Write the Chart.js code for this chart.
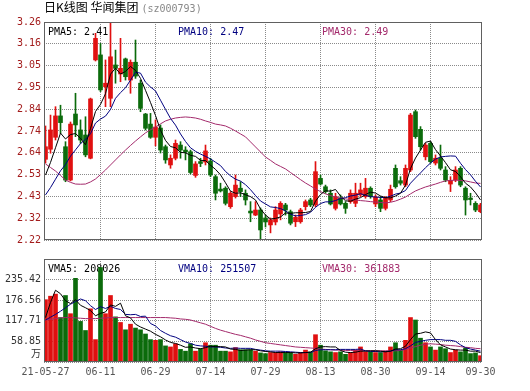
<!DOCTYPE html>
<html lang="zh">
<head>
  <meta charset="UTF-8">
  <title>日K线图 华闻集团</title>
  <script src="https://cdn.jsdelivr.net/npm/chart.js@4"></script>
  <style>
    body { margin: 0; background: #fff; }
    #wrap { position: relative; width: 530px; height: 391px; }
    #title { position: absolute; left: 44px; top: 0; font: 12px/14px "Noto Sans CJK SC", sans-serif; color: #000; white-space: nowrap; z-index: 2; }
    #title .code { font: 10px/14px "DejaVu Sans Mono", monospace; color: #888; margin-left: 3px; }
    canvas { position: absolute; left: 0; }
    #price { top: 0; }
    #volume { top: 250px; }
  </style>
</head>
<body>
  <div id="wrap">
    <div id="title">日K线图 华闻集团<span class="code">(sz000793)</span></div>
    <canvas id="price" width="530" height="250"></canvas>
    <canvas id="volume" width="530" height="141"></canvas>
  </div>

  <script>
    // 横轴刻度（按K线序号）
    const xTickIdx = [0, 11, 22, 33, 44, 55, 66, 77, 87];
    const xTickLabels = ['21-05-27', '06-11', '06-29', '07-14', '07-29', '08-13', '08-30', '09-14', '09-30'];
    const priceTicks = [2.22, 2.324, 2.428, 2.532, 2.636, 2.74, 2.844, 2.948, 3.052, 3.156, 3.26];
    const volTicks = [0, 58.85, 117.71, 176.56, 235.42, 294.27];

    const priceLegend = ['PMA5: 2.41', 'PMA10: 2.47', 'PMA30: 2.49'];
    const volLegend = ['VMA5: 208026', 'VMA10: 251507', 'VMA30: 361883'];

    // 日K数据
    const opens = [
      2.605, 2.653, 2.710, 2.812, 2.665, 2.506, 2.821, 2.745, 2.721, 2.610,
      3.079, 3.103, 2.951, 2.896, 3.055, 3.012, 3.084, 2.983, 3.068, 2.968,
      2.821, 2.773, 2.710, 2.754, 2.665, 2.578, 2.610, 2.673, 2.649, 2.641,
      2.528, 2.594, 2.592, 2.597, 2.522, 2.463, 2.467, 2.379, 2.427, 2.467,
      2.443, 2.358, 2.339, 2.363, 2.325, 2.292, 2.306, 2.344, 2.387, 2.355,
      2.307, 2.307, 2.379, 2.411, 2.387, 2.514, 2.474, 2.443, 2.371, 2.419,
      2.395, 2.403, 2.395, 2.435, 2.427, 2.467, 2.392, 2.411, 2.371, 2.411,
      2.562, 2.503, 2.482, 2.554, 2.832, 2.748, 2.617, 2.681, 2.587, 2.610,
      2.554, 2.487, 2.506, 2.562, 2.467, 2.420, 2.395, 2.355
    ];
    const highs = [
      2.764, 2.816, 2.856, 2.863, 2.689, 2.783, 2.920, 2.793, 2.808, 2.897,
      3.206, 3.158, 3.079, 3.260, 3.126, 3.182, 3.088, 3.079, 3.174, 2.983,
      2.824, 2.824, 2.793, 2.769, 2.673, 2.626, 2.697, 2.689, 2.665, 2.649,
      2.594, 2.610, 2.673, 2.610, 2.530, 2.491, 2.474, 2.451, 2.530, 2.498,
      2.459, 2.403, 2.403, 2.373, 2.339, 2.325, 2.379, 2.403, 2.395, 2.363,
      2.339, 2.371, 2.411, 2.419, 2.594, 2.530, 2.482, 2.459, 2.443, 2.435,
      2.403, 2.459, 2.491, 2.491, 2.514, 2.474, 2.435, 2.427, 2.427, 2.482,
      2.578, 2.522, 2.578, 2.824, 2.840, 2.761, 2.681, 2.689, 2.626, 2.673,
      2.570, 2.522, 2.570, 2.570, 2.474, 2.443, 2.403, 2.395
    ];
    const lows = [
      2.587, 2.634, 2.697, 2.729, 2.498, 2.502, 2.713, 2.681, 2.617, 2.607,
      3.074, 2.928, 2.856, 2.856, 2.968, 2.975, 2.983, 2.920, 2.991, 2.832,
      2.745, 2.705, 2.669, 2.635, 2.586, 2.562, 2.602, 2.610, 2.602, 2.535,
      2.519, 2.570, 2.578, 2.522, 2.411, 2.449, 2.387, 2.371, 2.420, 2.427,
      2.387, 2.307, 2.336, 2.220, 2.282, 2.254, 2.292, 2.316, 2.339, 2.292,
      2.284, 2.300, 2.363, 2.379, 2.379, 2.482, 2.443, 2.387, 2.363, 2.387,
      2.347, 2.395, 2.379, 2.427, 2.419, 2.419, 2.379, 2.355, 2.363, 2.403,
      2.467, 2.482, 2.474, 2.546, 2.705, 2.649, 2.602, 2.586, 2.578, 2.554,
      2.498, 2.451, 2.498, 2.474, 2.339, 2.387, 2.355, 2.350
    ];
    const closes = [
      2.665, 2.745, 2.812, 2.780, 2.506, 2.773, 2.769, 2.697, 2.626, 2.893,
      3.182, 2.936, 2.968, 3.094, 3.039, 3.039, 2.999, 3.068, 3.002, 2.848,
      2.753, 2.710, 2.759, 2.649, 2.602, 2.610, 2.681, 2.649, 2.640, 2.542,
      2.583, 2.585, 2.645, 2.530, 2.443, 2.454, 2.395, 2.443, 2.482, 2.451,
      2.411, 2.349, 2.363, 2.268, 2.306, 2.316, 2.363, 2.395, 2.363, 2.300,
      2.328, 2.363, 2.403, 2.387, 2.546, 2.487, 2.451, 2.392, 2.427, 2.392,
      2.371, 2.443, 2.443, 2.459, 2.467, 2.427, 2.425, 2.371, 2.419, 2.462,
      2.474, 2.491, 2.562, 2.816, 2.713, 2.665, 2.673, 2.594, 2.610, 2.562,
      2.506, 2.504, 2.554, 2.482, 2.411, 2.413, 2.363, 2.387
    ];
    const ma5 = [
      2.53, 2.59, 2.66, 2.73, 2.702, 2.723, 2.728, 2.705, 2.674, 2.752,
      2.833, 2.867, 2.918, 3.011, 3.040, 3.012, 3.024, 3.048, 3.029, 2.991,
      2.934, 2.876, 2.814, 2.744, 2.695, 2.666, 2.660, 2.638, 2.636, 2.624,
      2.619, 2.600, 2.599, 2.577, 2.557, 2.531, 2.493, 2.453, 2.443, 2.445,
      2.436, 2.427, 2.411, 2.368, 2.339, 2.320, 2.323, 2.330, 2.349, 2.347,
      2.350, 2.350, 2.351, 2.356, 2.405, 2.437, 2.455, 2.453, 2.461, 2.430,
      2.407, 2.405, 2.415, 2.422, 2.437, 2.448, 2.444, 2.430, 2.422, 2.421,
      2.430, 2.443, 2.482, 2.561, 2.611, 2.649, 2.686, 2.692, 2.651, 2.621,
      2.589, 2.555, 2.547, 2.522, 2.491, 2.473, 2.445, 2.411
    ];
    const ma10 = [
      2.435, 2.47, 2.51, 2.55, 2.58, 2.62, 2.65, 2.68, 2.70, 2.727,
      2.778, 2.797, 2.811, 2.843, 2.896, 2.923, 2.946, 2.983, 3.020, 3.016,
      2.973, 2.950, 2.931, 2.887, 2.843, 2.800, 2.768, 2.726, 2.690, 2.660,
      2.643, 2.630, 2.619, 2.607, 2.591, 2.575, 2.547, 2.526, 2.510, 2.501,
      2.484, 2.460, 2.432, 2.406, 2.392, 2.378, 2.375, 2.370, 2.359, 2.343,
      2.335, 2.337, 2.341, 2.352, 2.376, 2.394, 2.402, 2.402, 2.408, 2.418,
      2.422, 2.430, 2.434, 2.441, 2.433, 2.427, 2.425, 2.423, 2.422, 2.429,
      2.439, 2.444, 2.456, 2.491, 2.516, 2.540, 2.565, 2.587, 2.606, 2.616,
      2.619, 2.621, 2.620, 2.586, 2.556, 2.531, 2.500, 2.473
    ];
    const ma30 = [
      2.583, 2.566, 2.549, 2.528, 2.506, 2.495, 2.487, 2.486, 2.487, 2.497,
      2.511, 2.532, 2.554, 2.578, 2.602, 2.626, 2.649, 2.671, 2.692, 2.712,
      2.731, 2.746, 2.759, 2.774, 2.788, 2.796, 2.802, 2.805, 2.807, 2.805,
      2.802, 2.796, 2.788, 2.781, 2.773, 2.769, 2.764, 2.753, 2.740, 2.726,
      2.712, 2.688, 2.664, 2.640, 2.616, 2.600, 2.583, 2.571, 2.559, 2.542,
      2.525, 2.508, 2.492, 2.478, 2.463, 2.451, 2.440, 2.432, 2.425, 2.420,
      2.416, 2.413, 2.411, 2.408, 2.406, 2.403, 2.401, 2.399, 2.397, 2.400,
      2.406, 2.415, 2.425, 2.440, 2.454, 2.464, 2.473, 2.480, 2.487, 2.495,
      2.502, 2.504, 2.506, 2.504, 2.502, 2.497, 2.492, 2.490
    ];

    // 成交量（万）
    const volumes = [
      178, 188, 194, 127, 190, 138, 239, 116, 90, 152,
      64, 270, 138, 190, 129, 113, 92, 108, 97, 92,
      80, 64, 62, 64, 46, 43, 52, 36, 31, 52,
      31, 38, 55, 48, 48, 31, 31, 29, 41, 35,
      35, 35, 31, 26, 24, 27, 27, 29, 27, 27,
      22, 27, 34, 29, 78, 48, 32, 29, 27, 29,
      22, 27, 34, 43, 29, 29, 27, 27, 31, 43,
      55, 34, 62, 127, 120, 68, 55, 43, 34, 43,
      38, 27, 34, 29, 40, 24, 26, 18
    ];
    const vma5 = [
      127, 170, 205, 195, 175, 167, 178, 162, 155, 147,
      132, 139, 143, 163, 159, 168, 132, 126, 108, 100,
      94, 88, 79, 72, 63, 56, 53, 48, 42, 43,
      40, 38, 41, 45, 44, 44, 43, 37, 36, 33,
      34, 35, 35, 32, 30, 29, 27, 27, 27, 27,
      26, 26, 27, 28, 38, 43, 44, 43, 43, 33,
      28, 27, 28, 31, 31, 32, 32, 31, 29, 31,
      37, 38, 45, 64, 80, 82, 86, 83, 64, 49,
      43, 37, 35, 34, 34, 31, 31, 27
    ];
    const vma10 = [
      120, 128, 136, 145, 155, 165, 173, 180, 175, 161,
      150, 158, 153, 159, 153, 150, 136, 135, 136, 130,
      131, 110, 103, 90, 82, 75, 71, 64, 57, 53,
      48, 46, 45, 43, 43, 42, 40, 39, 40, 39,
      39, 39, 36, 34, 32, 31, 31, 31, 30, 29,
      28, 27, 27, 27, 33, 35, 35, 35, 35, 36,
      36, 36, 36, 37, 32, 30, 30, 29, 30, 31,
      35, 35, 38, 46, 56, 59, 62, 64, 64, 64,
      62, 62, 59, 49, 41, 37, 34, 31
    ];
    const vma30 = [
      120, 122, 124, 126, 127, 127, 126, 125, 124, 124,
      124, 125, 126, 127, 127, 127, 127, 127, 127, 127,
      127, 127, 127, 127, 127, 126, 125, 123, 122, 120,
      116, 112, 108, 102, 96, 91, 87, 83, 79, 76,
      72, 68, 63, 59, 55, 53, 51, 49, 47, 45,
      43, 42, 41, 40, 39, 37, 36, 35, 34, 34,
      33, 33, 32, 32, 32, 32, 32, 32, 32, 32,
      32, 33, 36, 40, 44, 48, 51, 52, 51, 50,
      48, 47, 46, 44, 42, 41, 39, 38
    ];

    const RED = '#e01010';
    const GREEN = '#0b6b0b';
    const MA_COLORS = ['#000000', '#000080', '#a3296b'];
    const GRID = '#8a8a8a';
    const DASH = [1, 1];
    const MONO = { family: '"DejaVu Sans Mono", monospace', size: 10 };
    const LEGEND_X = [4, 134, 278];

    Chart.defaults.font.family = MONO.family;

    const idx = closes.map((_, i) => i);
    const candleColors = idx.map(i => closes[i] >= opens[i] ? RED : GREEN);
    const pts = arr => arr.map((v, i) => ({ x: i, y: v }));

    function maLine(arr, k) {
      return {
        type: 'line', data: pts(arr), borderColor: MA_COLORS[k], borderWidth: 1,
        pointRadius: 0, tension: 0, fill: false, order: 0
      };
    }

    function xScale(showLabels) {
      return {
        type: 'linear', min: -0.3, max: 87.3, offset: false,
        afterBuildTicks: s => { s.ticks = xTickIdx.map(v => ({ value: v })); },
        afterFit: s => { s.height = showLabels ? 29 : 0; },
        grid: {
          offset: false, drawTicks: false, borderDash: DASH,
          color: c => (c.index === 0 || c.index === xTickIdx.length - 1) ? 'rgba(0,0,0,0)' : GRID
        },
        border: { display: false, dash: DASH },
        ticks: {
          display: showLabels, autoSkip: false, maxRotation: 0, padding: 4,
          color: '#555', font: MONO, callback: (v, i) => xTickLabels[i]
        }
      };
    }

    const maLegend = {
      id: 'maLegend',
      beforeDatasetsDraw(chart, args, opts) {
        const { ctx, chartArea } = chart;
        ctx.save();
        ctx.font = '10px "DejaVu Sans Mono"';
        ctx.textBaseline = 'middle';
        ctx.textAlign = 'left';
        opts.texts.forEach((t, k) => {
          ctx.fillStyle = MA_COLORS[k];
          ctx.fillText(t, chartArea.left + LEGEND_X[k], chartArea.top + 10);
        });
        ctx.restore();
      }
    };

    const frame = {
      id: 'frame',
      afterDraw(chart, args, opts) {
        const { ctx, chartArea: a } = chart;
        ctx.save();
        ctx.strokeStyle = '#606060';
        ctx.lineWidth = 1;
        ctx.strokeRect(a.left + 0.5, a.top + 0.5, a.right - a.left - 1, a.bottom - a.top - 1);
        if (opts.unit) {
          ctx.fillStyle = '#333';
          ctx.font = '10px "Noto Sans CJK SC"';
          ctx.textAlign = 'right';
          ctx.textBaseline = 'middle';
          ctx.fillText(opts.unit, a.left - 3, a.bottom - 9);
        }
        ctx.restore();
      }
    };

    new Chart(document.getElementById('price'), {
      type: 'bar',
      data: {
        datasets: [
          maLine(ma5, 0), maLine(ma10, 1), maLine(ma30, 2),
          {
            label: 'body', data: idx.map(i => ({ x: i, y: [opens[i], closes[i]] })),
            backgroundColor: candleColors, barThickness: 4, minBarLength: 1, grouped: false, order: 1
          },
          {
            label: 'wick', data: idx.map(i => ({ x: i, y: [lows[i], highs[i]] })),
            backgroundColor: candleColors, barThickness: 1, grouped: false, order: 2
          }
        ]
      },
      options: {
        responsive: false, animation: false,
        layout: { padding: { left: 0, right: 48, top: 22, bottom: 10 } },
        plugins: {
          legend: { display: false }, tooltip: { enabled: false },
          maLegend: { texts: priceLegend }, frame: {}
        },
        scales: {
          x: xScale(false),
          y: {
            type: 'linear', min: 2.22, max: 3.26,
            afterBuildTicks: s => { s.ticks = priceTicks.map(v => ({ value: v })); },
            afterFit: s => { s.width = 44; },
            grid: { drawTicks: false, color: GRID, borderDash: DASH },
            border: { display: false, dash: DASH },
            ticks: { padding: 3, color: '#a31c1c', font: MONO, callback: v => v.toFixed(2) }
          }
        }
      },
      plugins: [maLegend, frame]
    });

    new Chart(document.getElementById('volume'), {
      type: 'bar',
      data: {
        datasets: [
          maLine(vma5, 0), maLine(vma10, 1), maLine(vma30, 2),
          {
            label: 'volume', data: pts(volumes),
            backgroundColor: candleColors, barThickness: 4, grouped: false, order: 1
          }
        ]
      },
      options: {
        responsive: false, animation: false,
        layout: { padding: { left: 0, right: 48, top: 7, bottom: 0 } },
        plugins: {
          legend: { display: false }, tooltip: { enabled: false },
          maLegend: { texts: volLegend }, frame: { unit: '万' }
        },
        scales: {
          x: xScale(true),
          y: {
            type: 'linear', min: 0, max: 294.27,
            afterBuildTicks: s => { s.ticks = volTicks.map(v => ({ value: v })); },
            afterFit: s => { s.width = 44; },
            grid: { drawTicks: false, color: GRID, borderDash: DASH },
            border: { display: false, dash: DASH },
            ticks: {
              padding: 3, color: '#333', font: MONO,
              callback: (v, i) => (i === 0 || i === volTicks.length - 1) ? '' : v.toFixed(2)
            }
          }
        }
      },
      plugins: [maLegend, frame]
    });
  </script>
</body>
</html>
